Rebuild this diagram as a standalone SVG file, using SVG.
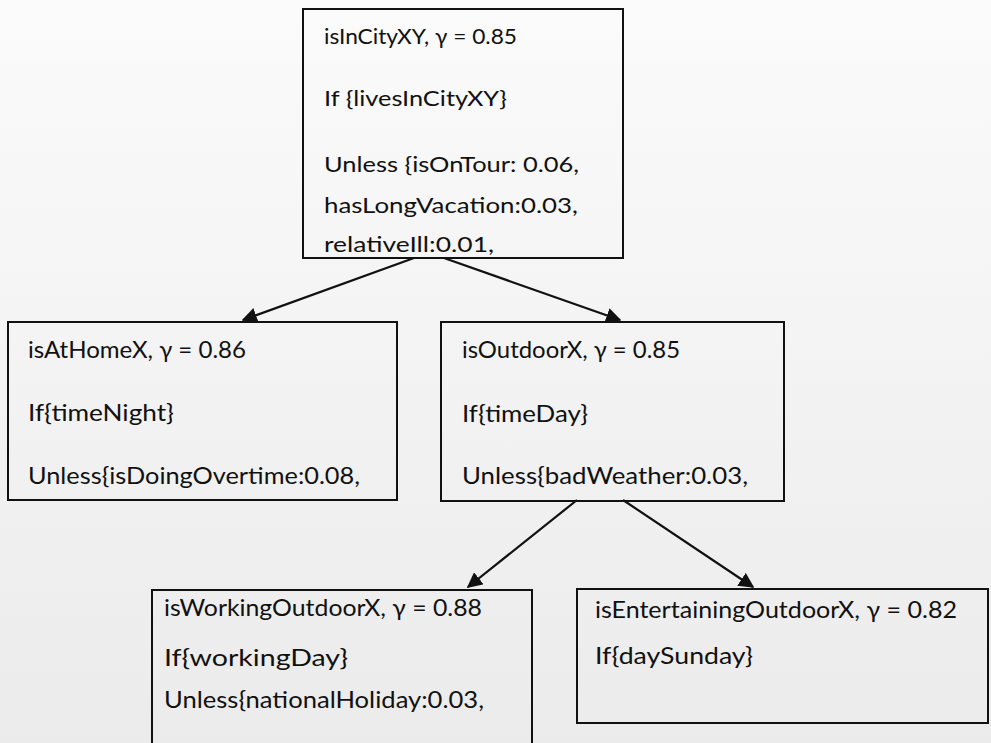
<svg xmlns="http://www.w3.org/2000/svg" width="991" height="743" viewBox="0 0 991 743">
  <defs>
    <linearGradient id="paper" x1="0" y1="0" x2="0" y2="1">
      <stop offset="0" stop-color="#fbfbfb"/>
      <stop offset="1" stop-color="#ebebeb"/>
    </linearGradient>
    <marker id="arrow" viewBox="0 0 10 10" refX="9" refY="5" markerWidth="7" markerHeight="7" markerUnits="strokeWidth" orient="auto">
      <path d="M0,0 L10,5 L0,10 Z" fill="#111"/>
    </marker>
  </defs>
  <style>
    .box { fill: none; stroke: #111; stroke-width: 2; }
    .t { font-family: Lato, "Open Sans", "Liberation Sans", sans-serif; fill: #111; }
    .s1 { font-size: 22px; }
    .s2 { font-size: 24px; }
    .edge { stroke: #111; stroke-width: 2.2; fill: none; marker-end: url(#arrow); }
  </style>
  <rect width="991" height="743" fill="url(#paper)"/>

  <g id="connectors">
    <line class="edge" x1="414" y1="258" x2="243" y2="320"/>
    <line class="edge" x1="444" y1="258" x2="620" y2="320"/>
    <line class="edge" x1="577" y1="500" x2="468" y2="587"/>
    <line class="edge" x1="623" y1="500" x2="753" y2="587"/>
  </g>

  <g id="isInCityXY">
    <rect class="box" x="303" y="9" width="320" height="249"/>
    <text class="t s1" x="324" y="44" textLength="193" lengthAdjust="spacingAndGlyphs">isInCityXY, γ = 0.85</text>
    <text class="t s1" x="324" y="106" textLength="183" lengthAdjust="spacingAndGlyphs">If {livesInCityXY}</text>
    <text class="t s1" x="324" y="172" textLength="255" lengthAdjust="spacingAndGlyphs">Unless {isOnTour: 0.06,</text>
    <text class="t s1" x="324" y="213" textLength="254" lengthAdjust="spacingAndGlyphs">hasLongVacation:0.03,</text>
    <text class="t s1" x="324" y="252" textLength="170" lengthAdjust="spacingAndGlyphs">relativeIll:0.01,</text>
  </g>

  <g id="isAtHomeX">
    <rect class="box" x="8" y="322" width="389" height="178"/>
    <text class="t s2" x="28" y="358" textLength="218" lengthAdjust="spacingAndGlyphs">isAtHomeX, γ = 0.86</text>
    <text class="t s2" x="28" y="421" textLength="146" lengthAdjust="spacingAndGlyphs">If{timeNight}</text>
    <text class="t s2" x="28" y="484" textLength="332" lengthAdjust="spacingAndGlyphs">Unless{isDoingOvertime:0.08,</text>
  </g>

  <g id="isOutdoorX">
    <rect class="box" x="441" y="322" width="343" height="179"/>
    <text class="t s2" x="462" y="358" textLength="218" lengthAdjust="spacingAndGlyphs">isOutdoorX, γ = 0.85</text>
    <text class="t s2" x="462" y="422" textLength="126" lengthAdjust="spacingAndGlyphs">If{timeDay}</text>
    <text class="t s2" x="462" y="484" textLength="286" lengthAdjust="spacingAndGlyphs">Unless{badWeather:0.03,</text>
  </g>

  <g id="isWorkingOutdoorX">
    <rect class="box" x="152" y="590" width="380" height="170"/>
    <text class="t s2" x="164" y="616" textLength="318" lengthAdjust="spacingAndGlyphs">isWorkingOutdoorX, γ = 0.88</text>
    <text class="t s2" x="164" y="666" textLength="184" lengthAdjust="spacingAndGlyphs">If{workingDay}</text>
    <text class="t s2" x="164" y="708" textLength="320" lengthAdjust="spacingAndGlyphs">Unless{nationalHoliday:0.03,</text>
  </g>

  <g id="isEntertainingOutdoorX">
    <rect class="box" x="577" y="589" width="411" height="134"/>
    <text class="t s2" x="595" y="618" textLength="362" lengthAdjust="spacingAndGlyphs">isEntertainingOutdoorX, γ = 0.82</text>
    <text class="t s2" x="595" y="664" textLength="158" lengthAdjust="spacingAndGlyphs">If{daySunday}</text>
  </g>
</svg>
